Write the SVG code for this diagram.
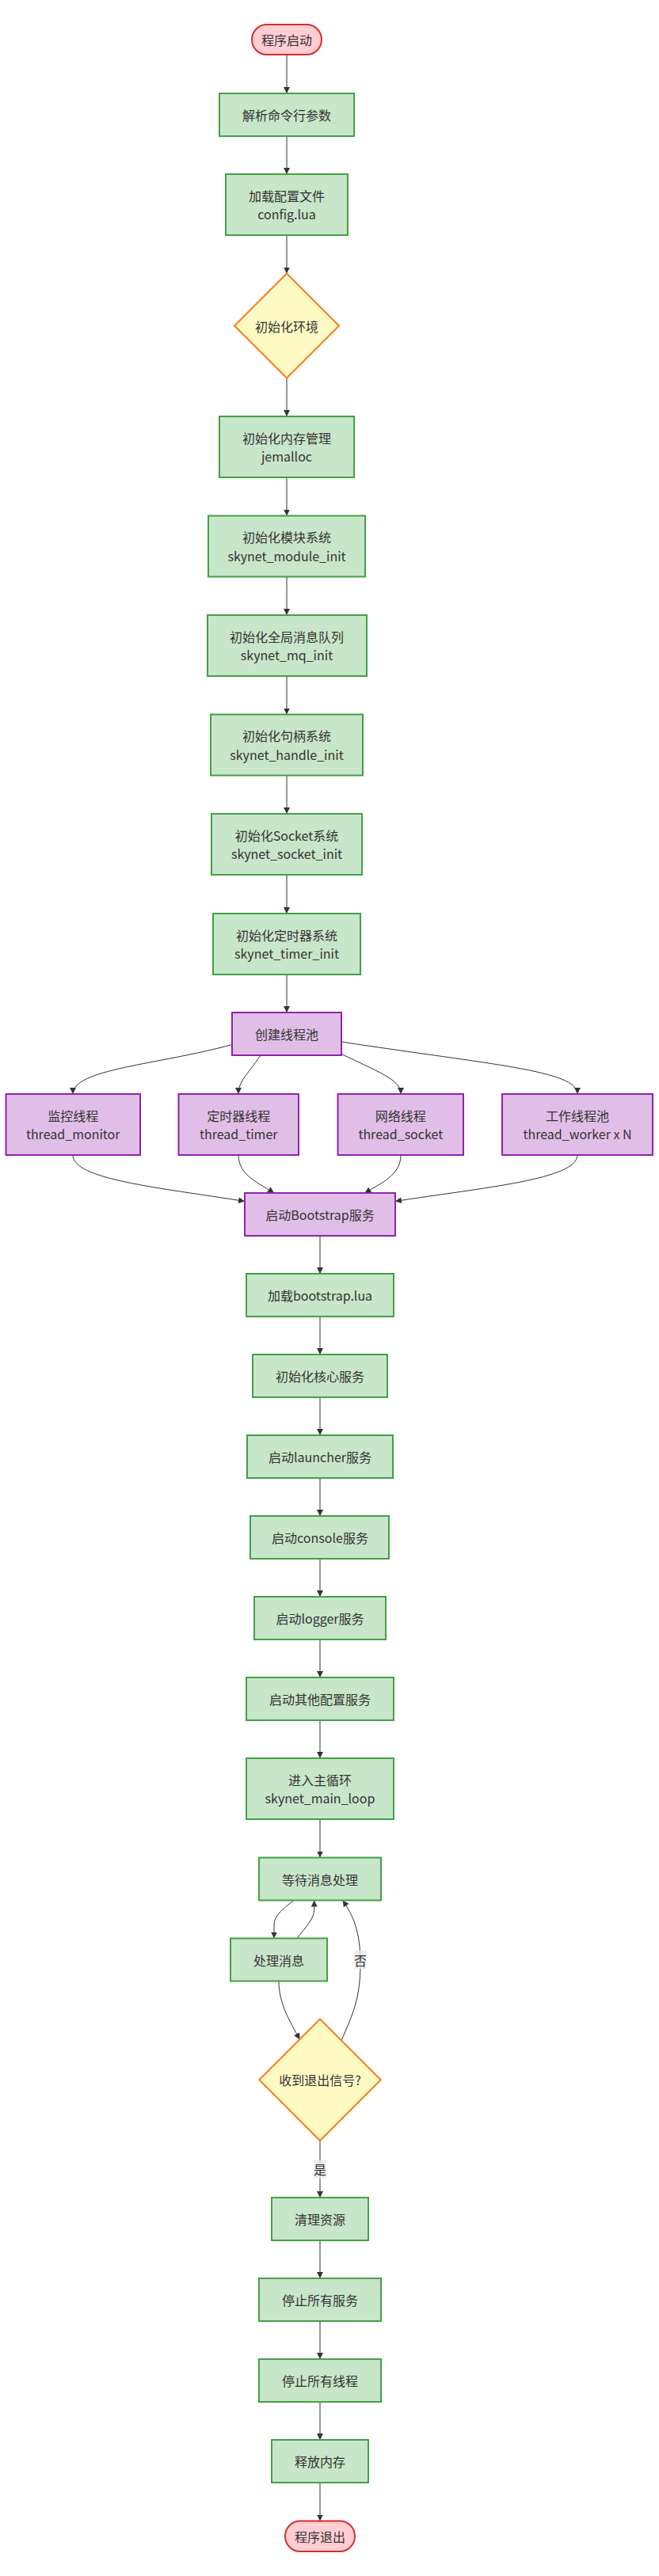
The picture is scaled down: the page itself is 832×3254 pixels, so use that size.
<svg xmlns="http://www.w3.org/2000/svg" width="832" height="3254" viewBox="0 0 832 3254">
<style>
text{font-family:"Noto Sans CJK SC","Noto Sans",sans-serif;font-size:16px;fill:#333;text-anchor:middle;dominant-baseline:central}
.g{fill:#c8e6c9;stroke:#43a047;stroke-width:2}
.p{fill:#e1bee7;stroke:#8e24aa;stroke-width:2}
.r{fill:#ffcdd2;stroke:#d32f2f;stroke-width:2}
.y{fill:#fff9c4;stroke:#f57f17;stroke-width:2}
.e{fill:none;stroke:#333;stroke-width:1;marker-end:url(#arr)}
.lb{fill:#e8e8e8;opacity:0.8}
</style>
<defs>
<marker id="arr" viewBox="0 0 10 10" refX="10" refY="5" markerWidth="8" markerHeight="8" markerUnits="userSpaceOnUse" orient="auto"><path d="M0,0 L10,5 L0,10 z" fill="#333"/></marker>
</defs>
<rect width="832" height="3254" fill="#fff"/>
<g id="edges">
<path class="e" d="M362,69 L362,118"/>
<path class="e" d="M362,172 L362,220"/>
<path class="e" d="M362,297 L362,345.5"/>
<path class="e" d="M362,477.5 L362,526"/>
<path class="e" d="M362,603 L362,651.5"/>
<path class="e" d="M362,728.5 L362,777"/>
<path class="e" d="M362,854 L362,902.5"/>
<path class="e" d="M362,979.5 L362,1028"/>
<path class="e" d="M362,1105 L362,1154"/>
<path class="e" d="M362,1231 L362,1279"/>
<path class="e" d="M293,1319.5 C200,1345 92,1350 92,1382"/>
<path class="e" d="M329,1333 C312,1358 301,1366 301,1382"/>
<path class="e" d="M432,1332 C488,1358 506,1366 506,1382"/>
<path class="e" d="M431,1316 C620,1345 729,1352 729,1382"/>
<path class="e" d="M92,1459 C92,1490 200,1500 309,1517.5"/>
<path class="e" d="M301,1459 C301,1485 328,1495 346,1507"/>
<path class="e" d="M506,1459 C506,1485 480,1495 460.5,1507"/>
<path class="e" d="M729,1459 C729,1490 610,1500 499,1517.5"/>
<path class="e" d="M404,1561 L404,1609"/>
<path class="e" d="M404,1663 L404,1711"/>
<path class="e" d="M404,1765 L404,1813"/>
<path class="e" d="M404,1867 L404,1915"/>
<path class="e" d="M404,1969 L404,2017"/>
<path class="e" d="M404,2071 L404,2119"/>
<path class="e" d="M404,2173 L404,2221"/>
<path class="e" d="M404,2298 L404,2346.5"/>
<path class="e" d="M371,2400.5 C356,2412 346,2420 346,2432 L346,2448.5"/>
<path class="e" d="M375,2448.5 C386,2434 396.7,2424 396.7,2412 L396.7,2400.5"/>
<path class="e" d="M352,2502.5 C352,2530 365,2552 378.5,2576.3"/>
<path class="e" d="M431,2577.6 C445,2545 455,2525 455,2480 C455,2440 446,2420 432.7,2400.5"/>
<path class="e" d="M404,2704 L404,2776"/>
<path class="e" d="M404,2830 L404,2878"/>
<path class="e" d="M404,2932 L404,2980"/>
<path class="e" d="M404,3034 L404,3082"/>
<path class="e" d="M404,3136 L404,3184.5"/>
<rect class="lb" x="447.5" y="2464" width="15" height="23"/>
<text x="455" y="2475.5">否</text>
<rect class="lb" x="396.5" y="2728.5" width="15" height="23"/>
<text x="404" y="2740">是</text>
</g>
<g id="start"><rect class="r" x="318" y="31" width="88" height="38" rx="19"/><text x="362" y="50">程序启动</text></g>
<g id="parse"><rect class="g" x="277" y="118" width="170" height="54"/><text x="362" y="145">解析命令行参数</text></g>
<g id="config"><rect class="g" x="285" y="220" width="154" height="77"/><text x="362" y="246.5">加载配置文件</text><text x="362" y="270">config.lua</text></g>
<g id="initenv"><polygon class="y" points="362,345.5 428,411.5 362,477.5 296,411.5"/><text x="362" y="411.5">初始化环境</text></g>
<g id="mem"><rect class="g" x="277" y="526" width="170" height="77"/><text x="362" y="552.5">初始化内存管理</text><text x="362" y="576">jemalloc</text></g>
<g id="module"><rect class="g" x="263" y="651.5" width="198" height="77"/><text x="362" y="678">初始化模块系统</text><text x="362" y="701.5">skynet_module_init</text></g>
<g id="mq"><rect class="g" x="262" y="777" width="201" height="77"/><text x="362" y="803.5">初始化全局消息队列</text><text x="362" y="827">skynet_mq_init</text></g>
<g id="handle"><rect class="g" x="266" y="902.5" width="192" height="77"/><text x="362" y="929">初始化句柄系统</text><text x="362" y="952.5">skynet_handle_init</text></g>
<g id="socket"><rect class="g" x="267" y="1028" width="190" height="77"/><text x="362" y="1054.5">初始化Socket系统</text><text x="362" y="1078">skynet_socket_init</text></g>
<g id="timer"><rect class="g" x="269" y="1154" width="186" height="77"/><text x="362" y="1180.5">初始化定时器系统</text><text x="362" y="1204">skynet_timer_init</text></g>
<g id="pool"><rect class="p" x="293" y="1279" width="138" height="54"/><text x="362" y="1306">创建线程池</text></g>
<g id="tmon"><rect class="p" x="7.5" y="1382" width="169.5" height="77"/><text x="92.2" y="1408.5">监控线程</text><text x="92.2" y="1432">thread_monitor</text></g>
<g id="ttimer"><rect class="p" x="225.5" y="1382" width="151.5" height="77"/><text x="301.2" y="1408.5">定时器线程</text><text x="301.2" y="1432">thread_timer</text></g>
<g id="tsock"><rect class="p" x="426.5" y="1382" width="158.5" height="77"/><text x="505.8" y="1408.5">网络线程</text><text x="505.8" y="1432">thread_socket</text></g>
<g id="twork"><rect class="p" x="634" y="1382" width="190" height="77"/><text x="729" y="1408.5">工作线程池</text><text x="729" y="1432">thread_worker x N</text></g>
<g id="boot"><rect class="p" x="309" y="1507" width="190" height="54"/><text x="404" y="1534">启动Bootstrap服务</text></g>
<g id="loadboot"><rect class="g" x="311" y="1609" width="186" height="54"/><text x="404" y="1636">加载bootstrap.lua</text></g>
<g id="core"><rect class="g" x="319" y="1711" width="170" height="54"/><text x="404" y="1738">初始化核心服务</text></g>
<g id="launcher"><rect class="g" x="312" y="1813" width="184" height="54"/><text x="404" y="1840">启动launcher服务</text></g>
<g id="console"><rect class="g" x="316" y="1915" width="175" height="54"/><text x="404" y="1942">启动console服务</text></g>
<g id="logger"><rect class="g" x="321" y="2017" width="166" height="54"/><text x="404" y="2044">启动logger服务</text></g>
<g id="other"><rect class="g" x="311" y="2119" width="186" height="54"/><text x="404" y="2146">启动其他配置服务</text></g>
<g id="mainloop"><rect class="g" x="311" y="2221" width="186" height="77"/><text x="404" y="2247.5">进入主循环</text><text x="404" y="2271">skynet_main_loop</text></g>
<g id="wait"><rect class="g" x="327" y="2346.5" width="154" height="54"/><text x="404" y="2373.5">等待消息处理</text></g>
<g id="proc"><rect class="g" x="291" y="2448.5" width="122" height="54"/><text x="352" y="2475.5">处理消息</text></g>
<g id="exitq"><polygon class="y" points="404,2550.5 480.7,2627.3 404,2704 327.3,2627.3"/><text x="404" y="2627.3">收到退出信号?</text></g>
<g id="clean"><rect class="g" x="343" y="2776" width="122" height="54"/><text x="404" y="2803">清理资源</text></g>
<g id="stopsvc"><rect class="g" x="327" y="2878" width="154" height="54"/><text x="404" y="2905">停止所有服务</text></g>
<g id="stopthr"><rect class="g" x="327" y="2980" width="154" height="54"/><text x="404" y="3007">停止所有线程</text></g>
<g id="free"><rect class="g" x="343" y="3082" width="122" height="54"/><text x="404" y="3109">释放内存</text></g>
<g id="end"><rect class="r" x="360" y="3184.5" width="88" height="38.5" rx="19"/><text x="404" y="3203.7">程序退出</text></g>
</svg>
